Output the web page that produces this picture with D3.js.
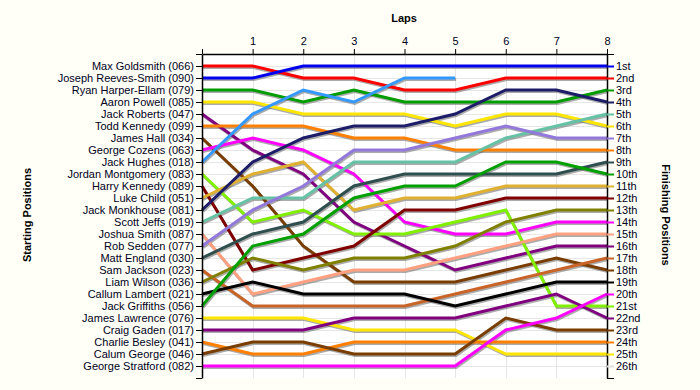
<!DOCTYPE html>
<html>
<head>
<meta charset="utf-8">
<script src="https://cdn.jsdelivr.net/npm/d3@7"></script>
<style>
  html, body { margin: 0; padding: 0; background: #fffff7; }
  svg text { font-family: "Liberation Sans", Arial, sans-serif; }
</style>
</head>
<body>
<div id="chart"></div>
<script>
// laps along the top
const laps = [0, 1, 2, 3, 4, 5, 6, 7, 8];

// drivers in starting order
const drivers = [
    "Max Goldsmith (066)",
    "Joseph Reeves-Smith (090)",
    "Ryan Harper-Ellam (079)",
    "Aaron Powell (085)",
    "Jack Roberts (047)",
    "Todd Kennedy (099)",
    "James Hall (034)",
    "George Cozens (063)",
    "Jack Hughes (018)",
    "Jordan Montgomery (083)",
    "Harry Kennedy (089)",
    "Luke Child (051)",
    "Jack Monkhouse (081)",
    "Scott Jeffs (019)",
    "Joshua Smith (087)",
    "Rob Sedden (077)",
    "Matt England (030)",
    "Sam Jackson (023)",
    "Liam Wilson (036)",
    "Callum Lambert (021)",
    "Jack Griffiths (056)",
    "James Lawrence (076)",
    "Craig Gaden (017)",
    "Charlie Besley (041)",
    "Calum George (046)",
    "George Stratford (082)",
];

// position of each driver after each lap (null = retired)
const positions = [
    [1, 1, 2, 2, 3, 3, 2, 2, 2],
    [2, 2, 1, 1, 1, 1, 1, 1, 1],
    [3, 3, 4, 3, 4, 4, 4, 4, 3],
    [4, 4, 5, 5, 5, 6, 5, 5, 6],
    [5, 8, 10, 14, 16, 18, 17, 16, 16],
    [6, 6, 6, 7, 7, 8, 8, 8, 8],
    [7, 11, 16, 19, 19, 19, 18, 17, 18],
    [8, 7, 8, 10, 14, 15, 15, 14, 14],
    [9, 5, 3, 4, 2, 2, null, null, null],
    [10, 14, 13, 15, 15, 14, 13, 21, 21],
    [11, 18, 17, 16, 13, 13, 12, 12, 12],
    [12, 10, 9, 13, 12, 12, 11, 11, 11],
    [13, 9, 7, 6, 6, 5, 3, 3, 4],
    [14, 12, 12, 9, 9, 9, 7, 6, 5],
    [15, 20, 19, 18, 18, 17, 16, 15, 15],
    [16, 13, 11, 8, 8, 7, 6, 7, 7],
    [17, 15, 14, 11, 10, 10, 10, 10, 9],
    [18, 21, 21, 21, 21, 20, 19, 18, 17],
    [19, 17, 18, 17, 17, 16, 14, 13, 13],
    [20, 19, 20, 20, 20, 21, 20, 19, 19],
    [21, 16, 15, 12, 11, 11, 9, 9, 10],
    [22, 22, 22, 23, 23, 23, 25, 25, 25],
    [23, 23, 23, 22, 22, 22, 21, 20, 22],
    [24, 25, 25, 24, 24, 24, 24, 24, 24],
    [25, 24, 24, 25, 25, 25, 22, 23, 23],
    [26, 26, 26, 26, 26, 26, 23, 22, 20],
];

const finishLabels = [
    "1st", "2nd", "3rd", "4th", "5th", "6th", "7th", "8th", "9th", "10th",
    "11th", "12th", "13th", "14th", "15th", "16th", "17th", "18th", "19th", "20th",
    "21st", "22nd", "23rd", "24th", "25th", "26th",
];

// one colour per driver, same order as drivers
const COLORS = [
    "#ff0000", "#0000ee", "#009c00", "#ffe600", "#800080", "#ff8000",
    "#7a3d00", "#ff00ff", "#3399ff", "#80f000", "#800000", "#e0b030",
    "#1c1c68", "#66c2a5", "#ffa080", "#9378dc", "#2f4f4f", "#c86428",
    "#808000", "#000000", "#00a000", "#ffe600", "#800080", "#ff8000",
    "#7a3d00", "#ff00ff",
];

const width = 700;
const height = 390;
const TEXT_COLOR = "#00001a";

const svg = d3.create("svg").attr("width", width).attr("height", height);

const x = d3.scaleLinear().domain([0, 8]).range([202, 607]);
const y = d3.scaleLinear().domain([0, 27]).range([54, 378]);

// plot background
svg.append("rect")
    .attr("x", x(0))
    .attr("y", y(0))
    .attr("width", x(8) - x(0))
    .attr("height", y(27) - y(0))
    .attr("fill", "#ffffff");

// grid
const grid = svg.append("g").attr("stroke", "#e6e6e6").attr("stroke-width", 1);
grid.selectAll("line.v")
    .data(laps.slice(1, 8))
    .join("line")
    .attr("x1", (d) => Math.round(x(d)) + 0.5)
    .attr("x2", (d) => Math.round(x(d)) + 0.5)
    .attr("y1", y(0))
    .attr("y2", y(27));
grid.selectAll("line.h")
    .data(d3.range(1, 27))
    .join("line")
    .attr("x1", x(0))
    .attr("x2", x(8))
    .attr("y1", (d) => Math.round(y(d)) + 0.5)
    .attr("y2", (d) => Math.round(y(d)) + 0.5);

// lines with a soft shadow underneath
const line = d3.line()
    .defined((d) => d != null)
    .x((d, i) => x(laps[i]))
    .y((d) => y(d));

svg.append("g")
    .attr("transform", "translate(1,1.5)")
    .selectAll("path")
    .data(positions)
    .join("path")
    .attr("d", line)
    .attr("fill", "none")
    .attr("stroke", "#666")
    .attr("stroke-opacity", 0.55)
    .attr("stroke-width", 3);

svg.append("g")
    .selectAll("path")
    .data(positions)
    .join("path")
    .attr("d", line)
    .attr("fill", "none")
    .attr("stroke", (d, i) => COLORS[i])
    .attr("stroke-width", 3);

// top axis (laps)
const topAxis = svg.append("g")
    .attr("transform", `translate(0,${y(0)})`)
    .call(d3.axisTop(x).tickValues(laps).tickSize(5).tickSizeOuter(0)
        .tickFormat((d) => (d === 0 ? "" : d)));

// left axis (starting positions)
const leftAxis = svg.append("g")
    .attr("transform", `translate(${x(0)},0)`)
    .call(d3.axisLeft(y).tickValues(d3.range(0, 28)).tickSize(6).tickSizeOuter(0)
        .tickPadding(2)
        .tickFormat((d) => (d >= 1 && d <= 26 ? drivers[d - 1] : "")));

// who finished where
const finisher = {};
positions.forEach((p, i) => {
    if (p[8] != null) finisher[p[8]] = i;
});

const rightAxis = svg.append("g")
    .attr("transform", `translate(${x(8)},0)`)
    .call(d3.axisRight(y).tickValues(d3.range(0, 28)).tickSize(7).tickSizeOuter(0)
        .tickPadding(2)
        .tickFormat((d) => (d >= 1 && d <= 26 ? finishLabels[d - 1] : "")));

rightAxis.selectAll(".tick line")
    .attr("stroke", (d) => {
        if (d < 1 || d > 26) return "#000";
        return finisher[d] != null ? COLORS[finisher[d]] : "#e0e0e0";
    })
    .attr("stroke-width", (d) => (d >= 1 && d <= 26 ? 2 : 1));

[topAxis, leftAxis, rightAxis].forEach((a) => {
    a.selectAll("text")
        .attr("fill", TEXT_COLOR)
        .style("font-size", "11px");
    a.select(".domain").attr("stroke", "#000").attr("stroke-width", 1.5);
});
topAxis.selectAll("text").attr("dy", "-0.1em");

// axis titles
svg.append("text")
    .attr("x", 404)
    .attr("y", 22)
    .attr("text-anchor", "middle")
    .attr("font-weight", "bold")
    .attr("font-size", 11)
    .attr("fill", "#000")
    .text("Laps");

svg.append("text")
    .attr("transform", "translate(31,215) rotate(-90)")
    .attr("text-anchor", "middle")
    .attr("font-weight", "bold")
    .attr("font-size", 11)
    .attr("fill", "#000")
    .text("Starting Positions");

svg.append("text")
    .attr("transform", "translate(662,215) rotate(90)")
    .attr("text-anchor", "middle")
    .attr("font-weight", "bold")
    .attr("font-size", 11)
    .attr("fill", "#000")
    .text("Finishing Positions");

document.getElementById("chart").append(svg.node());
</script>
</body>
</html>
